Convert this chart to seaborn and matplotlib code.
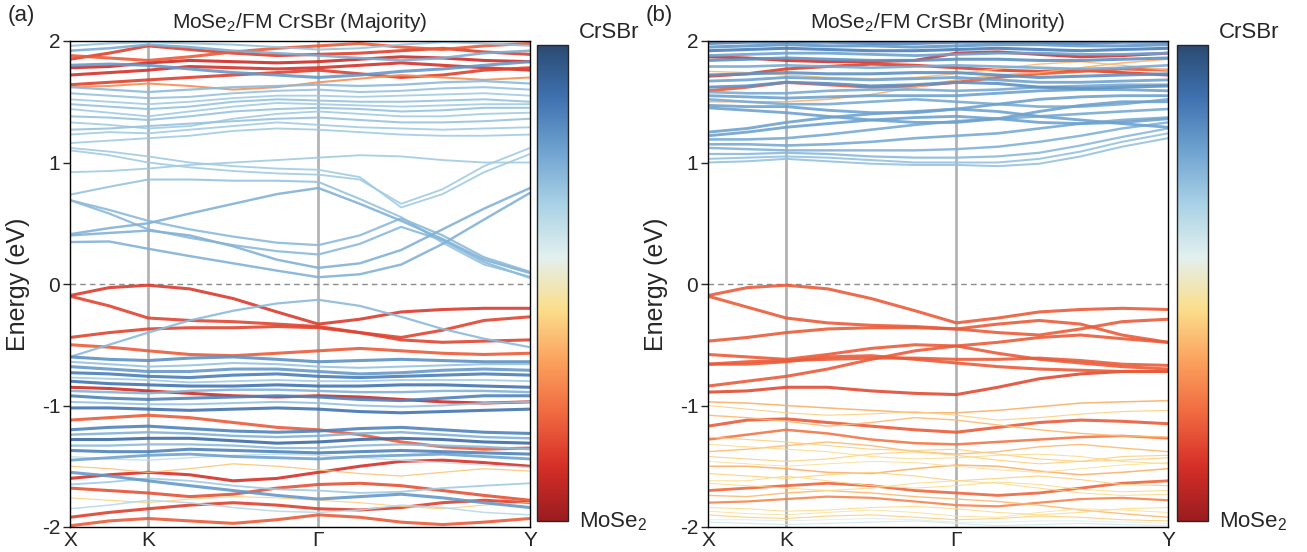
import numpy as np
import pandas as pd
import seaborn as sns
import matplotlib.pyplot as plt
from matplotlib.colors import LinearSegmentedColormap, Normalize
from matplotlib.cm import ScalarMappable

sns.set_style('ticks')
plt.rcParams['font.family'] = ['Liberation Sans', 'DejaVu Sans']
plt.rcParams['mathtext.fontset'] = 'custom'
plt.rcParams['mathtext.rm'] = 'Liberation Sans'
plt.rcParams['axes.unicode_minus'] = False

# k-path sample positions (fraction of path) and high-symmetry labels
k_pos = [0.0, 0.085, 0.17, 0.26, 0.355, 0.45, 0.54, 0.63, 0.72, 0.81, 0.9, 1.0]
k_ticks = [0.0, 0.17, 0.54, 1.0]
k_labels = ['X', 'K', 'Γ', 'Y']

# weight: 0 = MoSe2, 1 = CrSBr
# ---- (a) majority, conduction bands ----
maj_cond = [
    [0.345, 0.35, 0.29, 0.23, 0.17, 0.11, 0.056, 0.08, 0.16, 0.33, 0.53, 0.75],
    [0.40, 0.42, 0.44, 0.40, 0.31, 0.20, 0.133, 0.17, 0.28, 0.45, 0.62, 0.79],
    [0.41, 0.46, 0.50, 0.58, 0.66, 0.74, 0.79, 0.66, 0.52, 0.37, 0.20, 0.09],
    [0.69, 0.58, 0.45, 0.38, 0.32, 0.27, 0.243, 0.33, 0.47, 0.36, 0.18, 0.05],
    [0.69, 0.61, 0.52, 0.45, 0.39, 0.34, 0.32, 0.40, 0.54, 0.40, 0.22, 0.10],
    [0.735, 0.80, 0.86, 0.86, 0.85, 0.85, 0.84, 0.70, 0.55, 0.34, 0.16, 0.06],
    [1.10, 1.06, 1.00, 0.96, 0.93, 0.91, 0.90, 0.86, 0.66, 0.78, 0.97, 1.12],
    [1.12, 1.09, 1.05, 1.00, 0.97, 0.95, 0.94, 0.88, 0.63, 0.74, 0.92, 1.07],
    [0.92, 0.93, 0.95, 0.98, 1.00, 1.02, 1.04, 1.06, 1.05, 1.02, 1.00, 1.00],
    [1.16, 1.18, 1.20, 1.22, 1.26, 1.28, 1.27, 1.25, 1.23, 1.22, 1.22, 1.23],
    [1.23, 1.25, 1.24, 1.27, 1.30, 1.33, 1.31, 1.29, 1.28, 1.27, 1.28, 1.29],
    [1.27, 1.28, 1.30, 1.32, 1.34, 1.36, 1.37, 1.35, 1.33, 1.33, 1.34, 1.36],
    [1.33, 1.31, 1.28, 1.30, 1.36, 1.40, 1.42, 1.40, 1.38, 1.38, 1.40, 1.41],
    [1.38, 1.37, 1.35, 1.38, 1.42, 1.44, 1.45, 1.44, 1.42, 1.43, 1.45, 1.45],
    [1.44, 1.41, 1.38, 1.42, 1.46, 1.49, 1.48, 1.47, 1.46, 1.47, 1.48, 1.48],
    [1.48, 1.46, 1.44, 1.46, 1.50, 1.52, 1.51, 1.50, 1.50, 1.51, 1.52, 1.50],
    [1.52, 1.50, 1.48, 1.50, 1.53, 1.55, 1.55, 1.54, 1.55, 1.56, 1.57, 1.55],
    [1.57, 1.55, 1.53, 1.54, 1.57, 1.59, 1.60, 1.58, 1.59, 1.61, 1.62, 1.60],
    [1.62, 1.60, 1.58, 1.60, 1.62, 1.63, 1.64, 1.63, 1.64, 1.66, 1.67, 1.65],
    [1.80, 1.81, 1.80, 1.77, 1.74, 1.72, 1.70, 1.72, 1.75, 1.77, 1.80, 1.83],
    [1.92, 1.94, 1.97, 1.95, 1.92, 1.90, 1.88, 1.86, 1.84, 1.86, 1.90, 1.92],
    [1.96, 1.98, 1.99, 1.98, 1.97, 1.95, 1.93, 1.94, 1.97, 1.99, 1.98, 1.96],
    [1.64, 1.66, 1.68, 1.70, 1.72, 1.74, 1.76, 1.73, 1.70, 1.72, 1.76, 1.78],
    [1.72, 1.74, 1.76, 1.79, 1.78, 1.77, 1.78, 1.80, 1.82, 1.80, 1.78, 1.76],
    [1.78, 1.79, 1.82, 1.84, 1.83, 1.82, 1.83, 1.85, 1.87, 1.86, 1.84, 1.83],
    [1.85, 1.90, 1.96, 1.93, 1.90, 1.88, 1.89, 1.90, 1.92, 1.94, 1.91, 1.89],
    [1.88, 1.86, 1.84, 1.87, 1.91, 1.94, 1.96, 1.98, 1.95, 1.93, 1.96, 1.98],
    [1.62, 1.63, 1.65, 1.63, 1.60, 1.62, 1.66, 1.69, 1.72, 1.70, 1.68, 1.70],
]
maj_cond_w = [0.74, 0.74, 0.74, 0.72, 0.72, 0.70, 0.68, 0.68, 0.68,
              0.68, 0.68, 0.70, 0.68, 0.70, 0.68, 0.70, 0.68, 0.70, 0.72,
              0.80, 0.75, 0.70,
              0.15, 0.12, 0.10, 0.15, 0.20, 0.30]

# ---- (a) majority, valence bands ----
maj_val = [
    [-0.095, -0.03, -0.01, -0.04, -0.12, -0.23, -0.33, -0.29, -0.23, -0.21, -0.20, -0.20],
    [-0.10, -0.18, -0.28, -0.30, -0.31, -0.33, -0.35, -0.40, -0.44, -0.38, -0.30, -0.27],
    [-0.60, -0.50, -0.40, -0.30, -0.22, -0.16, -0.13, -0.18, -0.27, -0.37, -0.45, -0.52],
    [-0.44, -0.40, -0.37, -0.36, -0.36, -0.35, -0.36, -0.40, -0.46, -0.48, -0.47, -0.46],
    [-0.50, -0.52, -0.55, -0.58, -0.59, -0.57, -0.55, -0.53, -0.55, -0.57, -0.58, -0.57],
    [-0.85, -0.86, -0.88, -0.90, -0.92, -0.93, -0.92, -0.93, -0.95, -0.97, -0.98, -0.97],
    [-1.12, -1.10, -1.08, -1.10, -1.14, -1.18, -1.20, -1.24, -1.30, -1.34, -1.36, -1.35],
    [-1.60, -1.57, -1.55, -1.57, -1.62, -1.60, -1.55, -1.50, -1.46, -1.45, -1.47, -1.50],
    [-1.68, -1.70, -1.72, -1.75, -1.73, -1.68, -1.65, -1.64, -1.66, -1.70, -1.74, -1.78],
    [-1.92, -1.88, -1.85, -1.82, -1.80, -1.82, -1.85, -1.86, -1.84, -1.80, -1.78, -1.80],
    [-1.99, -1.95, -1.93, -1.95, -1.97, -1.94, -1.90, -1.92, -1.96, -1.98, -1.96, -1.93],
    [-1.50, -1.52, -1.55, -1.52, -1.48, -1.50, -1.53, -1.56, -1.58, -1.55, -1.52, -1.54],
    [-1.76, -1.78, -1.80, -1.77, -1.75, -1.76, -1.78, -1.80, -1.83, -1.85, -1.82, -1.80],
    [-1.42, -1.44, -1.45, -1.43, -1.41, -1.40, -1.41, -1.43, -1.45, -1.47, -1.49, -1.51],
    [-0.60, -0.62, -0.63, -0.61, -0.60, -0.62, -0.64, -0.63, -0.62, -0.63, -0.64, -0.64],
    [-0.64, -0.66, -0.68, -0.67, -0.65, -0.66, -0.68, -0.69, -0.68, -0.67, -0.66, -0.66],
    [-0.68, -0.70, -0.72, -0.72, -0.70, -0.70, -0.72, -0.74, -0.73, -0.71, -0.70, -0.71],
    [-0.73, -0.74, -0.76, -0.77, -0.75, -0.74, -0.76, -0.77, -0.76, -0.75, -0.74, -0.75],
    [-0.77, -0.78, -0.79, -0.81, -0.80, -0.79, -0.80, -0.80, -0.79, -0.79, -0.79, -0.80],
    [-0.80, -0.82, -0.83, -0.84, -0.84, -0.83, -0.84, -0.84, -0.83, -0.83, -0.84, -0.85],
    [-0.88, -0.89, -0.90, -0.88, -0.87, -0.87, -0.88, -0.89, -0.89, -0.88, -0.88, -0.89],
    [-0.92, -0.94, -0.95, -0.94, -0.93, -0.92, -0.93, -0.95, -0.96, -0.94, -0.92, -0.92],
    [-0.97, -0.98, -0.99, -0.99, -0.98, -0.97, -0.98, -1.00, -1.01, -1.00, -0.98, -0.97],
    [-1.02, -1.02, -1.03, -1.04, -1.03, -1.02, -1.03, -1.05, -1.06, -1.05, -1.04, -1.03],
    [-1.20, -1.18, -1.17, -1.19, -1.21, -1.22, -1.21, -1.19, -1.18, -1.20, -1.22, -1.23],
    [-1.24, -1.23, -1.22, -1.23, -1.25, -1.26, -1.25, -1.23, -1.22, -1.24, -1.26, -1.27],
    [-1.28, -1.28, -1.27, -1.27, -1.29, -1.31, -1.30, -1.28, -1.27, -1.28, -1.30, -1.31],
    [-1.33, -1.33, -1.32, -1.32, -1.33, -1.35, -1.35, -1.33, -1.32, -1.33, -1.34, -1.36],
    [-1.37, -1.38, -1.38, -1.36, -1.37, -1.38, -1.39, -1.38, -1.37, -1.38, -1.39, -1.40],
    [-1.45, -1.43, -1.41, -1.40, -1.42, -1.43, -1.44, -1.42, -1.41, -1.40, -1.42, -1.44],
    [-1.65, -1.63, -1.60, -1.62, -1.66, -1.69, -1.70, -1.72, -1.71, -1.68, -1.66, -1.64],
    [-1.85, -1.82, -1.78, -1.80, -1.84, -1.87, -1.88, -1.86, -1.82, -1.84, -1.88, -1.90],
    [-1.55, -1.58, -1.62, -1.66, -1.70, -1.74, -1.77, -1.75, -1.73, -1.76, -1.80, -1.84],
]
maj_val_w = [0.14, 0.16, 0.72, 0.16, 0.20, 0.10, 0.20, 0.12, 0.18, 0.15, 0.20,
             0.40, 0.42, 0.62,
             0.82, 0.70, 0.80, 0.86, 0.68, 0.88, 0.74, 0.85, 0.70, 0.88,
             0.85, 0.74, 0.90, 0.72, 0.85, 0.78, 0.68, 0.64, 0.80]

# ---- (b) minority, conduction bands ----
min_cond = [
    [1.00, 1.01, 1.03, 1.01, 0.99, 0.98, 0.98, 0.97, 0.99, 1.05, 1.13, 1.20],
    [1.03, 1.04, 1.05, 1.04, 1.02, 1.00, 1.00, 1.00, 1.03, 1.09, 1.17, 1.24],
    [1.07, 1.07, 1.08, 1.07, 1.05, 1.04, 1.04, 1.05, 1.08, 1.14, 1.21, 1.28],
    [1.12, 1.11, 1.10, 1.10, 1.10, 1.10, 1.11, 1.13, 1.17, 1.22, 1.28, 1.33],
    [1.15, 1.15, 1.14, 1.15, 1.17, 1.20, 1.22, 1.24, 1.28, 1.32, 1.35, 1.37],
    [1.19, 1.19, 1.20, 1.23, 1.27, 1.31, 1.34, 1.36, 1.38, 1.40, 1.42, 1.44],
    [1.22, 1.25, 1.29, 1.32, 1.35, 1.37, 1.38, 1.36, 1.33, 1.32, 1.33, 1.36],
    [1.25, 1.28, 1.33, 1.37, 1.40, 1.42, 1.44, 1.42, 1.38, 1.35, 1.32, 1.29],
    [1.45, 1.43, 1.41, 1.38, 1.35, 1.33, 1.33, 1.36, 1.42, 1.47, 1.50, 1.50],
    [1.47, 1.46, 1.46, 1.43, 1.41, 1.41, 1.44, 1.48, 1.52, 1.54, 1.55, 1.55],
    [1.52, 1.50, 1.48, 1.48, 1.50, 1.52, 1.50, 1.48, 1.46, 1.46, 1.48, 1.52],
    [1.55, 1.54, 1.53, 1.54, 1.55, 1.55, 1.55, 1.57, 1.59, 1.60, 1.60, 1.59],
    [1.58, 1.57, 1.57, 1.59, 1.60, 1.60, 1.59, 1.60, 1.62, 1.63, 1.64, 1.64],
    [1.62, 1.63, 1.66, 1.65, 1.63, 1.64, 1.66, 1.65, 1.62, 1.61, 1.62, 1.63],
    [1.67, 1.68, 1.70, 1.69, 1.68, 1.69, 1.70, 1.68, 1.66, 1.66, 1.67, 1.68],
    [1.72, 1.73, 1.74, 1.73, 1.73, 1.74, 1.74, 1.72, 1.70, 1.71, 1.72, 1.73],
    [1.79, 1.79, 1.80, 1.79, 1.78, 1.79, 1.80, 1.79, 1.78, 1.77, 1.78, 1.80],
    [1.84, 1.85, 1.86, 1.85, 1.84, 1.84, 1.85, 1.85, 1.84, 1.84, 1.85, 1.86],
    [1.88, 1.89, 1.90, 1.90, 1.89, 1.88, 1.89, 1.90, 1.90, 1.89, 1.89, 1.90],
    [1.92, 1.93, 1.94, 1.93, 1.92, 1.92, 1.93, 1.94, 1.93, 1.92, 1.93, 1.94],
    [1.95, 1.96, 1.97, 1.96, 1.96, 1.95, 1.96, 1.97, 1.97, 1.96, 1.96, 1.97],
    [1.98, 1.99, 1.99, 1.99, 1.98, 1.98, 1.99, 1.99, 1.99, 1.98, 1.99, 1.99],
    [1.87, 1.86, 1.84, 1.83, 1.83, 1.84, 1.90, 1.91, 1.89, 1.87, 1.88, 1.90],
    [1.71, 1.73, 1.77, 1.79, 1.81, 1.80, 1.78, 1.76, 1.75, 1.76, 1.74, 1.72],
    [1.59, 1.62, 1.66, 1.64, 1.62, 1.63, 1.66, 1.70, 1.73, 1.75, 1.77, 1.76],
    [1.50, 1.50, 1.50, 1.52, 1.56, 1.62, 1.68, 1.72, 1.74, 1.78, 1.82, 1.85],
    [1.75, 1.74, 1.72, 1.70, 1.69, 1.70, 1.73, 1.77, 1.81, 1.83, 1.80, 1.76],
]
min_cond_w = [0.70, 0.70, 0.72, 0.74, 0.76, 0.76, 0.78, 0.78, 0.78, 0.78, 0.76, 0.78, 0.76,
              0.82, 0.78, 0.82, 0.76, 0.82, 0.78, 0.86, 0.80, 0.84,
              0.12, 0.15, 0.20, 0.36, 0.38]

# ---- (b) minority, valence bands ----
min_val = [
    [-0.095, -0.03, -0.01, -0.04, -0.12, -0.22, -0.32, -0.28, -0.23, -0.21, -0.20, -0.21],
    [-0.10, -0.19, -0.28, -0.32, -0.34, -0.35, -0.37, -0.40, -0.42, -0.37, -0.31, -0.29],
    [-0.47, -0.44, -0.40, -0.37, -0.36, -0.36, -0.37, -0.33, -0.30, -0.33, -0.42, -0.48],
    [-0.58, -0.60, -0.62, -0.58, -0.53, -0.50, -0.51, -0.48, -0.44, -0.42, -0.45, -0.48],
    [-0.66, -0.64, -0.63, -0.62, -0.61, -0.61, -0.62, -0.62, -0.61, -0.63, -0.66, -0.67],
    [-0.66, -0.66, -0.64, -0.60, -0.59, -0.62, -0.65, -0.68, -0.70, -0.71, -0.72, -0.72],
    [-0.84, -0.80, -0.76, -0.70, -0.62, -0.55, -0.51, -0.57, -0.62, -0.65, -0.68, -0.70],
    [-0.89, -0.88, -0.85, -0.85, -0.88, -0.90, -0.91, -0.85, -0.78, -0.74, -0.72, -0.72],
    [-0.97, -0.98, -1.00, -1.02, -1.04, -1.06, -1.06, -1.04, -1.01, -0.98, -0.97, -0.96],
    [-1.17, -1.12, -1.11, -1.14, -1.17, -1.20, -1.22, -1.18, -1.14, -1.12, -1.13, -1.15],
    [-1.08, -1.10, -1.13, -1.17, -1.14, -1.10, -1.12, -1.16, -1.20, -1.23, -1.25, -1.26],
    [-1.28, -1.24, -1.20, -1.23, -1.28, -1.31, -1.32, -1.30, -1.28, -1.26, -1.25, -1.27],
    [-1.38, -1.36, -1.33, -1.30, -1.33, -1.38, -1.40, -1.38, -1.34, -1.32, -1.35, -1.38],
    [-1.42, -1.44, -1.46, -1.44, -1.40, -1.38, -1.41, -1.45, -1.48, -1.46, -1.42, -1.41],
    [-1.50, -1.50, -1.52, -1.55, -1.56, -1.52, -1.49, -1.50, -1.54, -1.57, -1.55, -1.52],
    [-1.56, -1.58, -1.60, -1.57, -1.55, -1.58, -1.62, -1.60, -1.58, -1.61, -1.65, -1.66],
    [-1.62, -1.62, -1.58, -1.62, -1.66, -1.68, -1.66, -1.63, -1.65, -1.69, -1.71, -1.70],
    [-1.70, -1.68, -1.66, -1.64, -1.66, -1.70, -1.72, -1.74, -1.72, -1.68, -1.64, -1.62],
    [-1.80, -1.79, -1.77, -1.75, -1.76, -1.79, -1.82, -1.83, -1.80, -1.77, -1.76, -1.78],
    [-1.84, -1.85, -1.87, -1.86, -1.84, -1.83, -1.85, -1.88, -1.90, -1.88, -1.85, -1.84],
    [-1.90, -1.92, -1.93, -1.91, -1.90, -1.92, -1.94, -1.93, -1.91, -1.92, -1.94, -1.95],
    [-1.96, -1.97, -1.98, -1.97, -1.96, -1.95, -1.97, -1.99, -1.98, -1.97, -1.98, -1.99],
    [-1.26, -1.28, -1.30, -1.33, -1.36, -1.37, -1.36, -1.40, -1.44, -1.46, -1.45, -1.43],
    [-1.74, -1.75, -1.72, -1.70, -1.72, -1.75, -1.77, -1.79, -1.82, -1.86, -1.89, -1.92],
    [-1.00, -1.03, -1.06, -1.08, -1.07, -1.05, -1.08, -1.12, -1.10, -1.07, -1.05, -1.04],
    [-1.32, -1.34, -1.36, -1.38, -1.42, -1.44, -1.43, -1.41, -1.40, -1.42, -1.46, -1.48],
    [-1.46, -1.48, -1.50, -1.48, -1.46, -1.47, -1.50, -1.53, -1.55, -1.52, -1.49, -1.47],
    [-1.64, -1.66, -1.68, -1.70, -1.68, -1.64, -1.62, -1.64, -1.68, -1.72, -1.74, -1.73],
    [-1.87, -1.89, -1.90, -1.88, -1.86, -1.88, -1.91, -1.92, -1.88, -1.85, -1.86, -1.88],
    [-1.94, -1.94, -1.95, -1.94, -1.93, -1.94, -1.96, -1.96, -1.95, -1.95, -1.96, -1.97],
]
min_val_w = [0.20, 0.20, 0.20, 0.20, 0.20, 0.20, 0.20, 0.17,
             0.36, 0.20, 0.38, 0.25, 0.38, 0.42, 0.36, 0.42, 0.44, 0.22, 0.28, 0.44,
             0.42, 0.58, 0.42, 0.38,
             0.42, 0.44, 0.45, 0.44, 0.46, 0.56]

cbar_colors = ['#9b1c1f', '#d42e27', '#f0673f', '#fba05c', '#fbde8b', '#e2f0ee',
               '#a9d1e6', '#6fa3d0', '#3f72b0', '#2b4a72']
cmap = LinearSegmentedColormap.from_list('mose2_crsbr', cbar_colors)


def band_frame(groups):
    rows = []
    n = 0
    for bands, weights in groups:
        for energies, w in zip(bands, weights):
            strength = min(abs(w - 0.5) / 0.3, 1.0) ** 1.5
            for k, e in zip(k_pos, energies):
                rows.append({'band': n, 'k': k, 'E': e, 'w': w, 's': strength})
            n += 1
    return pd.DataFrame(rows)


W, H = 1307, 552
fig = plt.figure(figsize=(W / 100, H / 100), dpi=100)

panels = [
    ('(a)', 'MoSe$_\\mathregular{2}$/FM CrSBr (Majority)', 70, 537,
     [(maj_val, maj_val_w), (maj_cond, maj_cond_w)]),
    ('(b)', 'MoSe$_\\mathregular{2}$/FM CrSBr (Minority)', 708, 1177,
     [(min_val, min_val_w), (min_cond, min_cond_w)]),
]

for tag, title, x0, cx0, groups in panels:
    ax = fig.add_axes([x0 / W, 1 - 527 / H, 460 / W, 486 / H])
    df = band_frame(groups)
    sns.lineplot(data=df, x='k', y='E', hue='w', size='s', units='band',
                 estimator=None, sort=False, palette=cmap, hue_norm=(0, 1),
                 sizes=(0.6, 2.2), size_norm=(0, 1), legend=False, alpha=0.9, ax=ax)
    for kt in k_ticks[1:-1]:
        ax.axvline(kt, color='#b3b3b3', lw=2, zorder=0)
    ax.axhline(0, color='#8c8c8c', lw=1, ls=(0, (4, 3)), zorder=0)
    ax.set_xlim(0, 1)
    ax.set_ylim(-2, 2)
    ax.set_xticks(k_ticks)
    ax.set_xticklabels(k_labels)
    ax.set_yticks([-2, -1, 0, 1, 2])
    ax.tick_params(axis='x', length=0, labelsize=15, pad=3)
    ax.tick_params(axis='y', direction='out', length=5, width=1, labelsize=15, pad=2)
    ax.set_xlabel('')
    ax.set_ylabel('Energy (eV)', fontsize=18)
    ax.yaxis.set_label_coords(-0.088, 0.5)
    for sp in ax.spines.values():
        sp.set_linewidth(1)
        sp.set_color('black')
    ax.set_title(title, fontsize=15, pad=9)
    fig.text((x0 - 62) / W, 1 - 15 / H, tag, fontsize=16, va='center', ha='left')

    cax = fig.add_axes([cx0 / W, 1 - 521 / H, 31 / W, 476 / H])
    cb = fig.colorbar(ScalarMappable(norm=Normalize(0, 1), cmap=cmap), cax=cax)
    cb.set_ticks([])
    cb.outline.set_linewidth(1)
    fig.text((cx0 + 42) / W, 1 - 33 / H, 'CrSBr', fontsize=16, va='center', ha='left')
    fig.text((cx0 + 42) / W, 1 - 522 / H, 'MoSe$_\\mathregular{2}$', fontsize=16,
             va='center', ha='left')

fig.savefig('out.png', dpi=100)
